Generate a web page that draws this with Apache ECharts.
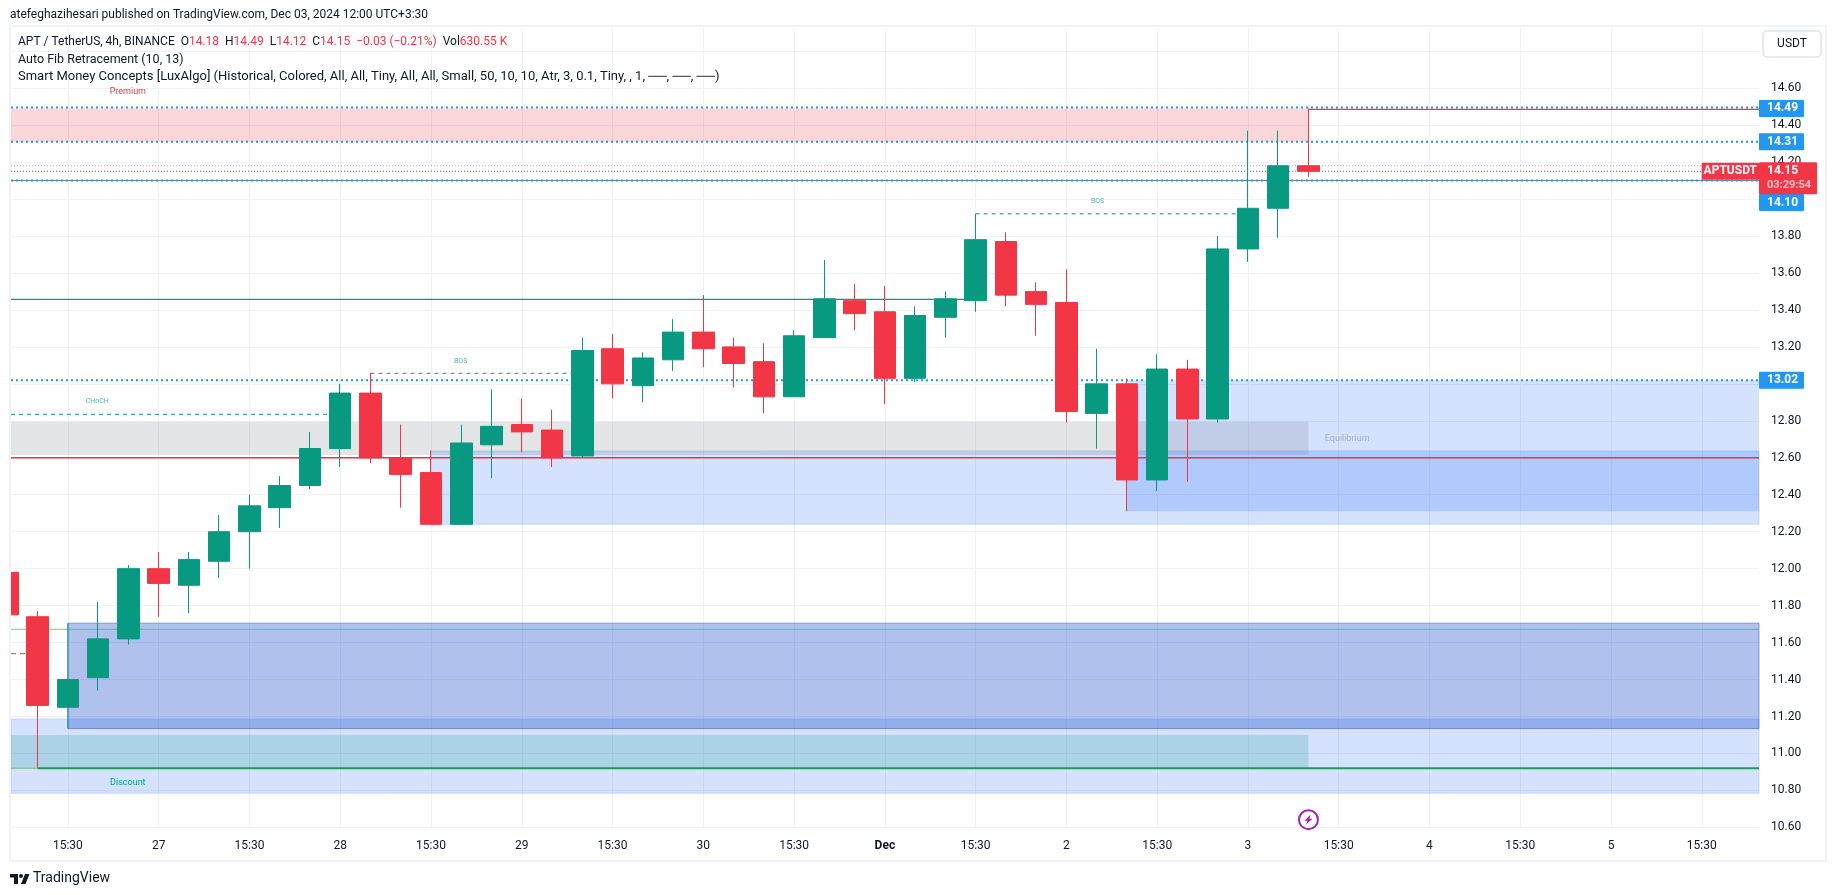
<!DOCTYPE html>
<html>
<head>
<meta charset="utf-8">
<title>APT / TetherUS</title>
<script src="https://cdn.jsdelivr.net/npm/echarts@6/dist/echarts.min.js"></script>
<style>
html, body { margin: 0; padding: 0; background: #fff; }
#chart { width: 1835px; height: 895px; }
</style>
</head>
<body>
<div id="chart"></div>
<script>
// 4h candles, x is the bar index (0 is the cut off bar on the left edge)
const candleOpen = [11.98, 11.74, 11.25, 11.41, 11.62, 12.00, 11.91, 12.04, 12.20, 12.33, 12.45, 12.65, 12.95, 12.60, 12.52, 12.24, 12.67, 12.78, 12.75, 12.61, 13.19, 12.99, 13.13, 13.28, 13.20, 13.12, 12.93, 13.25, 13.45, 13.39, 13.03, 13.36, 13.45, 13.77, 13.50, 13.44, 12.84, 13.00, 12.48, 13.08, 12.81, 13.73, 13.95, 14.18]
const candleClose = [11.75, 11.26, 11.40, 11.62, 12.00, 11.92, 12.05, 12.20, 12.34, 12.45, 12.65, 12.95, 12.60, 12.51, 12.24, 12.68, 12.77, 12.74, 12.60, 13.18, 13.00, 13.14, 13.28, 13.19, 13.11, 12.93, 13.26, 13.46, 13.38, 13.03, 13.37, 13.46, 13.78, 13.48, 13.43, 12.85, 13.00, 12.48, 13.08, 12.81, 13.73, 13.95, 14.18, 14.15]
const candleLow = [11.70, 10.92, 11.25, 11.34, 11.59, 11.74, 11.76, 11.95, 12.00, 12.22, 12.43, 12.55, 12.57, 12.33, 12.24, 12.24, 12.49, 12.63, 12.55, 12.60, 12.92, 12.90, 13.07, 13.09, 12.98, 12.84, 12.93, 13.25, 13.29, 12.89, 13.01, 13.25, 13.39, 13.42, 13.26, 12.79, 12.65, 12.31, 12.42, 12.47, 12.79, 13.66, 13.79, 14.12]
const candleHigh = [12.00, 11.77, 11.40, 11.82, 12.02, 12.09, 12.09, 12.29, 12.40, 12.50, 12.74, 13.00, 13.06, 12.78, 12.64, 12.78, 12.97, 12.92, 12.86, 13.25, 13.27, 13.17, 13.35, 13.48, 13.25, 13.22, 13.29, 13.67, 13.54, 13.53, 13.42, 13.50, 13.92, 13.82, 13.55, 13.62, 13.19, 13.03, 13.16, 13.13, 13.80, 14.37, 14.37, 14.49]

// time axis
const tickBars = [2, 5, 8, 11, 14, 17, 20, 23, 26, 29, 32, 35, 38, 41, 44, 47, 50, 53, 56]
const tickLabels = ['15:30', '27', '15:30', '28', '15:30', '29', '15:30', '30', '15:30', 'Dec', '15:30', '2', '15:30', '3', '15:30', '4', '15:30', '5', '15:30']

const xMin = 0.119
const xMax = 57.89

// zones: [from bar, to bar, low, high]
const premiumZone = [xMin, 43, 14.31, 14.49]
const equilibriumZone = [xMin, 43, 12.615, 12.795]
const discountZone = [xMin, 43, 10.92, 11.10]
const lightBlockA = [14, xMax, 12.24, 12.637]
const lightBlockB = [37, xMax, 12.31, 13.02]
const lightBlockC = [xMin, xMax, 10.785, 11.187]
const darkBlock = [2, xMax, 11.135, 11.705]

// level lines: [from bar, to bar, price]
const dottedBlueLevels = [[xMin, xMax, 14.495], [xMin, xMax, 14.31], [xMin, xMax, 14.10], [xMin, xMax, 13.02]]
const dashedGreenLevels = [[xMin, 11, 12.835], [12, 19, 13.057], [32, 41, 13.92]]
const dashedRedLevels = [[xMin, 1, 11.54]]
const solidRedLevels = [[43, xMax, 14.485], [xMin, xMax, 12.60]]
const solidGreenLevels = [[xMin, 32, 13.457]]
const softGreenLevels = [[xMin, xMax, 11.672], [xMin, 1, 10.92]]
const thickGreenLevels = [[1, xMax, 10.92]]
const fibLevels = [[xMin, xMax, 14.10]]
const fibDotted = [[xMin, xMax, 14.18]]
const priceLevel = [[xMin, xMax, 14.15]]

// small texts on the chart: [bar, price, text]
const greenNotes = [[2.97, 12.905, 'CHoCH'], [14.98, 13.12, 'BOS'], [36.03, 13.986, 'BOS']]
const premiumNote = [3.98, 14.578, 'Premium']
const discountNote = [3.98, 10.843, 'Discount']
const equilibriumNote = [44.28, 12.705, 'Equilibrium']

const blueTags = [14.49, 14.31, 13.02]
const shiftedTag = 14.10
const lastPrice = 14.15
const countdown = '03:29:54'
const lightningBar = 43
const lightningPrice = 10.642

const green = '#089981'
const red = '#f23645'
const blue = '#2196f3'
const textColor = '#131722'
const gridColor = '#f0f1f4'
const lightBlue = 'rgba(41,110,250,0.2)'

const candleData = candleOpen.map((o, i) => [i, o, candleClose[i], candleLow[i], candleHigh[i]])

const zoneSeries = (zone, color, border) => ({
  type: 'line',
  z: 1,
  silent: true,
  data: [],
  markArea: {
    silent: true,
    z: 1,
    itemStyle: { color: color, borderColor: border || 'transparent', borderWidth: border ? 1 : 0 },
    data: [[{ coord: [zone[0], zone[3]] }, { coord: [zone[1], zone[2]] }]]
  }
})

const levelSeries = (levels, color, width, type) => levels.map(l => ({
  type: 'line',
  z: 2,
  silent: true,
  showSymbol: false,
  lineStyle: { color: color, width: width, type: type },
  data: [[l[0], l[2]], [l[1], l[2]]]
}))

const noteSeries = (notes, color, size) => ({
  type: 'scatter',
  z: 4,
  silent: true,
  symbolSize: 0,
  itemStyle: { opacity: 1 },
  data: notes.map(n => ({ value: [n[0], n[1]], name: n[2] })),
  label: {
    show: true,
    position: 'inside',
    formatter: '{b}',
    color: color,
    fontSize: size,
    fontFamily: 'Roboto'
  }
})

const tagSeries = (price, position, text, bg, offset, padding, rich) => ({
  type: 'scatter',
  z: 10,
  silent: true,
  clip: false,
  symbolSize: 0,
  itemStyle: { opacity: 1 },
  data: [[xMax, price]],
  label: {
    show: true,
    position: position,
    distance: 0,
    offset: offset,
    formatter: text,
    color: '#fff',
    fontWeight: 'bold',
    fontSize: 12,
    lineHeight: 13,
    fontFamily: 'Roboto',
    backgroundColor: bg,
    borderRadius: 1,
    padding: padding,
    rich: rich
  }
})

const legendText = { color: textColor, fontSize: 13, fontWeight: 'normal', fontFamily: 'Roboto' }
const tagPadding = [2, 6, 2, 8]

const chart = echarts.init(document.getElementById('chart'), null, { renderer: 'canvas' })

chart.setOption({
  animation: false,
  backgroundColor: '#fff',
  textStyle: { fontFamily: 'Roboto' },
  title: [
    {
      text: 'atefeghazihesari published on TradingView.com, Dec 03, 2024 12:00 UTC+3:30',
      left: 10, top: 9, padding: 0, textStyle: { color: textColor, fontSize: 12, fontWeight: 'normal', fontFamily: 'Roboto' }
    },
    {
      text: 'APT / TetherUS, 4h, BINANCE  O{r|14.18}  H{r|14.49}  L{r|14.12}  C{r|14.15}  {r|−0.03 (−0.21%)}  Vol{r|630.55 K}',
      left: 18, top: 36, padding: 0,
      textStyle: { color: textColor, fontSize: 12, fontWeight: 'normal', fontFamily: 'Roboto', rich: { r: { color: red, fontSize: 12, fontFamily: 'Roboto' } } }
    },
    { text: 'Auto Fib Retracement (10, 13)', left: 18, top: 53, padding: 0, textStyle: { color: textColor, fontSize: 12.5, fontWeight: 'normal', fontFamily: 'Roboto' } },
    {
      text: 'Smart Money Concepts [LuxAlgo] (Historical, Colored, All, All, Tiny, All, All, Small, 50, 10, 10, Atr, 3, 0.1, Tiny, , 1, ──, ──, ──)',
      left: 18, top: 70, padding: 0, textStyle: legendText
    },
    {
      text: 'TradingView',
      left: 33, top: 871, padding: 0, textStyle: { color: textColor, fontSize: 14, fontWeight: 'normal', fontFamily: 'Roboto' }
    }
  ],
  graphic: [
    // the bar cut by the left edge of the pane
    { type: 'rect', z: 30, shape: { x: 0, y: 27, width: 10, height: 834 }, style: { fill: '#fff' } },
    { type: 'rect', z: 31, shape: { x: 10, y: 26, width: 1816, height: 835 }, style: { fill: 'none', stroke: '#f0f3fa', lineWidth: 2 } },
    { type: 'rect', z: 32, shape: { x: 1763, y: 31, width: 58, height: 26, r: 4 }, style: { fill: '#fff', stroke: '#e0e3eb', lineWidth: 1.5 } },
    { type: 'text', z: 33, style: { x: 1792, y: 44, text: 'USDT', fill: textColor, font: '12px Roboto', align: 'center', verticalAlign: 'middle' } },
    // TradingView logo
    { type: 'polygon', z: 32, shape: { points: [[10, 874], [18, 874], [18, 884], [14, 884], [14, 877.5], [10, 877.5]] }, style: { fill: textColor } },
    { type: 'circle', z: 32, shape: { cx: 21, cy: 876, r: 2 }, style: { fill: textColor } },
    { type: 'polygon', z: 32, shape: { points: [[25, 874], [29.5, 874], [25.5, 884], [21, 884]] }, style: { fill: textColor } }
  ],
  grid: { left: 11, top: 29, width: 1748, height: 798.4 },
  xAxis: {
    type: 'value',
    min: xMin,
    max: xMax,
    axisLine: { show: false },
    axisTick: { show: false, customValues: tickBars },
    splitLine: { show: true, lineStyle: { color: gridColor, width: 1 } },
    axisLabel: {
      customValues: tickBars,
      margin: 13,
      fontSize: 12,
      fontFamily: 'Roboto',
      color: textColor,
      formatter: v => {
        const label = tickLabels[tickBars.indexOf(v)]
        return label === 'Dec' ? '{b|Dec}' : label
      },
      rich: { b: { fontWeight: 'bold', fontSize: 12, fontFamily: 'Roboto', color: textColor } }
    }
  },
  yAxis: {
    type: 'value',
    position: 'right',
    min: 10.6,
    max: 14.92,
    interval: 0.2,
    axisLine: { show: false },
    axisTick: { show: false },
    splitLine: { show: true, showMaxLine: false, lineStyle: { color: gridColor, width: 1 } },
    axisLabel: {
      showMaxLabel: false,
      margin: 12,
      fontSize: 12,
      fontFamily: 'Roboto',
      color: textColor,
      formatter: v => v.toFixed(2)
    }
  },
  series: [
    zoneSeries(lightBlockC, lightBlue, lightBlue),
    zoneSeries(lightBlockA, lightBlue, lightBlue),
    zoneSeries(lightBlockB, lightBlue),
    zoneSeries(darkBlock, 'rgba(24,72,204,0.34)', 'rgba(24,72,204,0.45)'),
    zoneSeries(premiumZone, 'rgba(242,54,69,0.2)'),
    zoneSeries(equilibriumZone, 'rgba(120,123,134,0.2)'),
    zoneSeries(discountZone, 'rgba(8,153,129,0.2)'),
    ...levelSeries(softGreenLevels, 'rgba(76,175,80,0.7)', 1, 'solid'),
    ...levelSeries(thickGreenLevels, '#1f9a5a', 2, 'solid'),
    ...levelSeries(fibLevels, '#787b86', 1, 'solid'),
    ...levelSeries(fibDotted, '#a9abb3', 1, [1, 2]),
    ...levelSeries(priceLevel, red, 1, [1, 2]),
    ...levelSeries(dottedBlueLevels, blue, 2, [2, 3]),
    ...levelSeries(dashedGreenLevels, green, 1, [4, 4]),
    ...levelSeries(dashedRedLevels, red, 1, [5, 4]),
    ...levelSeries(solidRedLevels, red, 1.3, 'solid'),
    ...levelSeries(solidGreenLevels, green, 1.3, 'solid'),
    {
      type: 'line',
      z: 2,
      silent: true,
      showSymbol: false,
      lineStyle: { color: green, width: 1 },
      data: [[2, 11.135], [2, 11.705]]
    },
    {
      type: 'candlestick',
      z: 3,
      silent: true,
      barWidth: 22,
      itemStyle: { color: green, color0: red, borderColor: green, borderColor0: red, borderWidth: 1 },
      data: candleData
    },
    noteSeries(greenNotes, 'rgba(8,153,129,0.7)', 7),
    noteSeries([premiumNote], red, 9),
    noteSeries([discountNote], green, 9),
    noteSeries([equilibriumNote], 'rgba(120,123,134,0.5)', 9),
    ...blueTags.map(p => tagSeries(p, 'right', p.toFixed(2), blue, [0, 0], tagPadding)),
    tagSeries(shiftedTag, 'right', shiftedTag.toFixed(2), blue, [0, 22], tagPadding),
    tagSeries(lastPrice, 'left', 'APTUSDT', red, [0, 0], [2, 2, 2, 2]),
    tagSeries(lastPrice, 'right', '{p|' + lastPrice.toFixed(2) + '}\n{c|' + countdown + '}', red, [0, 7], tagPadding, {
      p: { color: '#fff', fontWeight: 'bold', fontSize: 12, lineHeight: 14, fontFamily: 'Roboto' },
      c: { color: 'rgba(255,255,255,0.7)', fontSize: 11, lineHeight: 14, fontFamily: 'Roboto' }
    }),
    // lightning mark under the last bar
    {
      type: 'scatter',
      z: 5,
      silent: true,
      symbol: 'circle',
      symbolSize: 19,
      itemStyle: { color: '#fff', opacity: 1, borderColor: '#9c27b0', borderWidth: 2 },
      data: [[lightningBar, lightningPrice]]
    },
    {
      type: 'scatter',
      z: 6,
      silent: true,
      symbol: 'path://M6 0L0 6h3L1.5 10 8 4H5z',
      symbolSize: [8, 10],
      itemStyle: { color: '#9c27b0', opacity: 1 },
      data: [[lightningBar, lightningPrice]]
    }
  ]
})
</script>
</body>
</html>
